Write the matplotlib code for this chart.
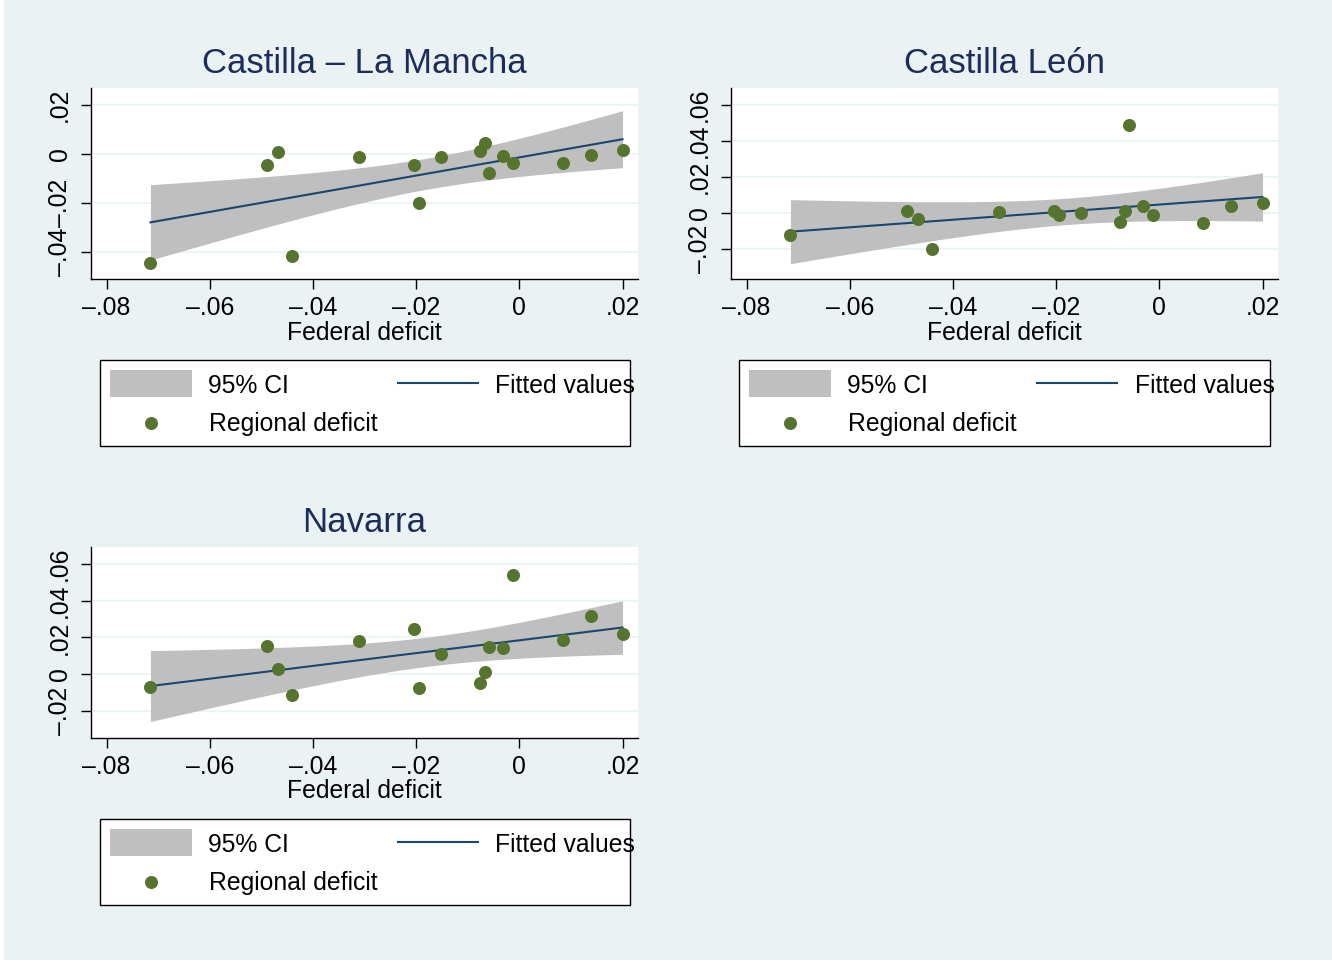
import numpy as np
import matplotlib
matplotlib.use("Agg")
import matplotlib.pyplot as plt
from matplotlib.patches import Rectangle
from matplotlib.lines import Line2D

# ---------------- data ----------------
federal_deficit = [-0.0715, -0.0490, -0.0468, -0.0441, -0.0311, -0.0204, -0.0194, -0.0152,
                   -0.0076, -0.0066, -0.0058, -0.0032, -0.0013, 0.0084, 0.0138, 0.0200]
castilla_la_mancha = [-0.0444, -0.0046, 0.0006, -0.0415, -0.0011, -0.0047, -0.0198, -0.0011,
                      0.0011, 0.0046, -0.0078, -0.0008, -0.0037, -0.0039, -0.0004, 0.0014]
castilla_leon = [-0.0124, 0.0009, -0.0031, -0.0199, 0.0004, 0.0009, -0.0013, 0.0002,
                 -0.0050, 0.0009, 0.0486, 0.0041, -0.0013, -0.0054, 0.0039, 0.0054]
navarra = [-0.0067, 0.0155, 0.0029, -0.0112, 0.0180, 0.0245, -0.0074, 0.0108,
           -0.0045, 0.0013, 0.0150, 0.0141, 0.0537, 0.0186, 0.0319, 0.0218]

titles = ["Castilla \u2013 La Mancha", "Castilla Le\u00f3n", "Navarra"]
x_ticks = [-0.08, -0.06, -0.04, -0.02, 0.0, 0.02]
x_tick_labels = ["\u2013.08", "\u2013.06", "\u2013.04", "\u2013.02", "0", ".02"]
y_ticks_1 = [-0.04, -0.02, 0.0, 0.02]
y_tick_labels_1 = ["\u2013.04", "\u2013.02", "0", ".02"]
y_ticks_2 = [-0.02, 0.0, 0.02, 0.04, 0.06]
y_tick_labels_2 = ["\u2013.02", "0", ".02", ".04", ".06"]
x_label = "Federal deficit"
legend_labels = ["95% CI", "Fitted values", "Regional deficit"]

# ---------------- style ----------------
BG = "#EAF2F3"
NAVY = "#1A476F"
GREEN = "#55752F"
CIGRAY = "#BFBFBF"
TITLE_C = "#1C2D5B"
FS = 17.8
plt.rcParams["font.family"] = ["Liberation Sans", "DejaVu Sans"]

W, H = 1332, 960
fig = plt.figure(figsize=(W / 100, H / 100), dpi=100, facecolor=BG)
fig.patches.append(Rectangle((0, 0), 4 / W, 1, transform=fig.transFigure,
                             facecolor="white", edgecolor="none", zorder=-5))


def fx(px):
    return px / W


def fy(py):
    return 1 - py / H


def add_panel(left_px, top_px, yvals, title, yticks, yticklabels, ylim):
    ax_w, ax_h = 547.4, 190.7
    ax = fig.add_axes([fx(left_px), fy(top_px + ax_h), ax_w / W, ax_h / H])
    ax.set_facecolor("white")
    x = np.asarray(federal_deficit)
    y = np.asarray(yvals)
    n = len(x)
    b, a = np.polyfit(x, y, 1)
    resid = y - (a + b * x)
    s = np.sqrt(np.sum(resid ** 2) / (n - 2))
    sxx = np.sum((x - x.mean()) ** 2)
    t975 = 2.1448  # t quantile, df = 14
    xg = np.linspace(x.min(), x.max(), 200)
    yg = a + b * xg
    se = s * np.sqrt(1 / n + (xg - x.mean()) ** 2 / sxx)
    ax.fill_between(xg, yg - t975 * se, yg + t975 * se, color=CIGRAY, lw=0, zorder=2)
    ax.plot(xg, yg, color=NAVY, lw=1.5, zorder=3)
    ax.scatter(x, y, s=88, color=GREEN, linewidths=0, zorder=4)

    ax.set_xlim(-0.0831, 0.0230)
    ax.set_ylim(*ylim)
    ax.set_xticks(x_ticks)
    ax.set_xticklabels(x_tick_labels)
    ax.set_yticks(yticks)
    ax.set_yticklabels(yticklabels, rotation=90, va="center")
    ax.tick_params(axis="x", length=7.2, width=1.0, pad=5.0, labelsize=FS, colors="black")
    ax.tick_params(axis="y", length=7.2, width=1.0, pad=6.5, labelsize=FS, colors="black")
    ax.grid(axis="y", color=BG, lw=1.2)
    ax.grid(axis="x", visible=False)
    ax.set_axisbelow(True)
    for sp in ["top", "right"]:
        ax.spines[sp].set_visible(False)
    for sp in ["left", "bottom"]:
        ax.spines[sp].set_linewidth(1.0)
        ax.spines[sp].set_color("black")
    ax.set_xlabel(x_label, fontsize=FS)
    ax.xaxis.set_label_coords(0.5, -(320.5 - 279) / ax_h)
    ax.xaxis.label.set_va("top")
    ax.set_title(title, fontsize=25, color=TITLE_C, pad=10.8)
    return ax


def add_legend(dx, dy):
    tr = fig.transFigure
    box = Rectangle((fx(99.6 + dx), fy(445.7 + dy)), 530.4 / W, 85.7 / H, transform=tr,
                    facecolor="white", edgecolor="black", lw=1.0, zorder=1)
    fig.patches.append(box)
    ci = Rectangle((fx(109.6 + dx), fy(396.7 + dy)), 82.2 / W, 26.7 / H, transform=tr,
                   facecolor=CIGRAY, edgecolor="none", zorder=2)
    fig.patches.append(ci)
    fig.lines.append(Line2D([fx(397.9 + dx), fx(477.5 + dx)], [fy(383.3 + dy)] * 2,
                            transform=tr, color=NAVY, lw=1.5, zorder=2))
    fig.lines.append(Line2D([fx(150.7 + dx)], [fy(422.7 + dy)], transform=tr, marker="o",
                            markersize=9.4, markerfacecolor=GREEN, markeredgewidth=0,
                            linestyle="none", zorder=2))
    fig.text(fx(207.9 + dx), fy(393.0 + dy), legend_labels[0], fontsize=FS, va="baseline", zorder=3)
    fig.text(fx(495.4 + dx), fy(393.0 + dy), legend_labels[1], fontsize=FS, va="baseline", zorder=3)
    fig.text(fx(208.6 + dx), fy(431.0 + dy), legend_labels[2], fontsize=FS, va="baseline", zorder=3)


add_panel(90.6, 88.3, castilla_la_mancha, titles[0], y_ticks_1, y_tick_labels_1, (-0.0509, 0.0267))
add_panel(730.6, 88.3, castilla_leon, titles[1], y_ticks_2, y_tick_labels_2, (-0.0365, 0.0691))
add_panel(90.6, 547.3, navarra, titles[2], y_ticks_2, y_tick_labels_2, (-0.0346, 0.0690))
add_legend(0, 0)
add_legend(639.5, 0)
add_legend(0, 459)

fig.savefig("out.png", dpi=100, facecolor=BG)
